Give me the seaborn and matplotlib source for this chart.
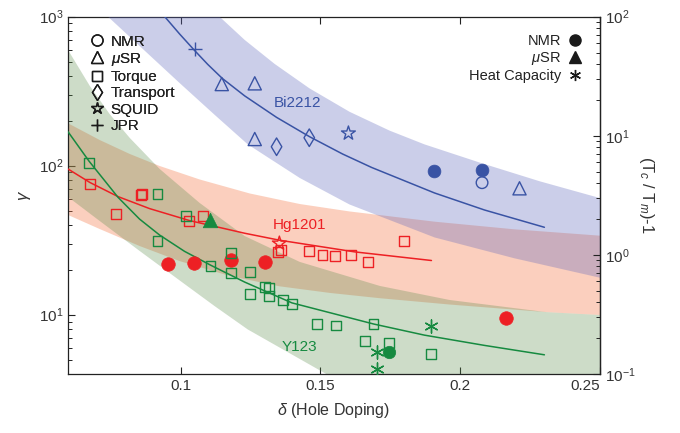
import numpy as np
import matplotlib
matplotlib.use("Agg")
import matplotlib.pyplot as plt
from matplotlib.lines import Line2D
from matplotlib.ticker import FixedLocator, NullLocator, LogLocator
import seaborn as sns

# ---------------- data ----------------
BLUE = "#3953a4"
RED = "#ed2024"
GREEN = "#168a40"

# Bi2212
bi_nmr_fill_x = [0.1905, 0.2078]
bi_nmr_fill_y = [92, 93.6]
bi_nmr_open_x = [0.2078]
bi_nmr_open_y = [76.9]
bi_musr_x = [0.1147, 0.1265, 0.1265, 0.2212]
bi_musr_y = [353, 357, 151, 70.5]
bi_trans_x = [0.1343, 0.1460]
bi_trans_y = [134, 154]
bi_squid_x = [0.1600]
bi_squid_y = [165]
bi_jpr_x = [0.1050]
bi_jpr_y = [604]
bi_fit_x = [0.0943, 0.0996, 0.1048, 0.1097, 0.1149, 0.1229, 0.1343, 0.1461, 0.1579, 0.1683,
            0.1908, 0.2087, 0.2301]
bi_fit_y = [1000, 766, 598, 478, 385, 294, 211, 156.5, 119.8, 97.3, 65.6, 50.4, 38.6]
bi_up_x = [0.1139, 0.1229, 0.1336, 0.1461, 0.1604, 0.1747, 0.1872, 0.2076, 0.2284, 0.25]
bi_up_y = [1000, 698, 482, 330, 230, 172, 139, 104, 78.6, 60.6]
bi_lo_x = [0.0740, 0.0853, 0.0996, 0.1122, 0.1240, 0.1426, 0.1604, 0.1908, 0.2194, 0.25]
bi_lo_y = [1000, 636, 359, 219, 139, 82.7, 54.9, 33.0, 23.9, 17.7]

# Hg1201
hg_torque_x = [0.0675, 0.0768, 0.0859, 0.0862, 0.1030, 0.1080, 0.1348, 0.1358, 0.1459,
               0.1507, 0.1551, 0.1610, 0.1670, 0.1799]
hg_torque_y = [75, 47.4, 63.2, 64.5, 42.8, 45.9, 26.2, 27.3, 26.9, 25.2, 24.8, 25.0, 22.6, 31.3]
hg_squid_x = [0.1353]
hg_squid_y = [30.1]
hg_nmr_x = [0.0955, 0.1046, 0.1179, 0.1303, 0.2164]
hg_nmr_y = [21.9, 22.1, 23.3, 22.5, 9.55]
hg_fit_x = [0.0597, 0.0675, 0.0776, 0.0889, 0.1032, 0.1229, 0.1354, 0.1622, 0.1897]
hg_fit_y = [95.0, 77.2, 62.0, 51.5, 42.8, 35.2, 31.6, 26.4, 23.1]
hg_up_x = [0.0597, 0.0710, 0.0818, 0.0925, 0.1068, 0.1247, 0.1426, 0.1604, 0.1908, 0.2194, 0.25]
hg_up_y = [192.6, 148.8, 119.8, 99.5, 80.8, 65.1, 55.3, 49.3, 42.1, 37.4, 33.9]
hg_lo_x = [0.0597, 0.0710, 0.0853, 0.0996, 0.1175, 0.1354, 0.1533, 0.1712, 0.1962, 0.2309, 0.25]
hg_lo_y = [46.7, 37.6, 28.9, 22.9, 18.2, 15.5, 14.0, 12.9, 11.7, 10.4, 9.95]

# Y123
y_torque_x = [0.0672, 0.0917, 0.1018, 0.0917, 0.1107, 0.1179, 0.1179, 0.1247, 0.1247, 0.1301,
              0.1316, 0.1316, 0.1366, 0.1398, 0.1487, 0.1556, 0.1690, 0.1660, 0.1745, 0.1896]
y_torque_y = [104, 64.9, 46.1, 31.1, 21.2, 25.8, 19.0, 19.3, 13.8, 15.4,
              15.1, 13.4, 12.6, 11.8, 8.63, 8.45, 8.67, 6.70, 6.43, 5.45]
y_musr_x = [0.1106]
y_musr_y = [43.3]
y_nmr_x = [0.1745]
y_nmr_y = [5.65]
y_heat_x = [0.1703, 0.1703, 0.1896]
y_heat_y = [5.65, 4.33, 8.45]
y_fit_x = [0.0597, 0.0672, 0.0776, 0.0853, 0.0925, 0.1014, 0.1107, 0.1229, 0.1398, 0.1690,
           0.1872, 0.2087, 0.2301]
y_fit_y = [169, 107.4, 61.3, 43.8, 34.2, 26.6, 21.5, 16.55, 12.0, 8.66, 7.29, 6.22, 5.38]
y_up_x = [0.0597, 0.0675, 0.0746, 0.0818, 0.0925, 0.1068, 0.1229, 0.1426, 0.1712, 0.1962,
          0.2309, 0.25]
y_up_y = [598, 343, 222, 153.5, 95.0, 56.2, 33.7, 22.6, 15.6, 12.55, 10.4, 9.95]
y_lo_x = [0.0597, 0.0710, 0.0853, 0.0996, 0.1122, 0.1240, 0.1390, 0.1533, 0.1783, 0.25]
y_lo_y = [61.7, 42.6, 26.8, 17.0, 11.4, 7.96, 5.51, 3.88, 3.2, 1.06]

xticks = [0.1, 0.15, 0.2, 0.25]
xtick_labels = ["0.1", "0.15", "0.2", "0.25"]

# ---------------- style ----------------
sns.set_theme(style="ticks")
plt.rcParams["font.family"] = ["Liberation Sans", "DejaVu Sans"]
plt.rcParams["mathtext.fontset"] = "custom"
plt.rcParams["mathtext.rm"] = "Liberation Sans"
plt.rcParams["mathtext.it"] = "Liberation Sans:italic"
plt.rcParams["mathtext.bf"] = "Liberation Sans:bold"
plt.rcParams["axes.linewidth"] = 0.9
plt.rcParams["axes.edgecolor"] = "#222222"

fig = plt.figure(figsize=(6.8, 4.33), dpi=100)
ax = fig.add_axes([0.1, 0.1363, 0.7824, 0.8252])
ax.set_yscale("log")


def band(xu, yu, xl, yl, color, alpha, z):
    xu, yu, xl, yl = map(np.asarray, (xu, yu, xl, yl))
    ax.fill(np.r_[xu, xl[::-1]], np.r_[yu, yl[::-1]], color=color, alpha=alpha,
            lw=0, zorder=z)


band(hg_up_x, hg_up_y, hg_lo_x, hg_lo_y, (245 / 255, 120 / 255, 70 / 255), 0.35, 1)
band(y_up_x, y_up_y, y_lo_x, y_lo_y, (90 / 255, 140 / 255, 75 / 255), 0.30, 2)
band(bi_up_x, bi_up_y, bi_lo_x, bi_lo_y, (96 / 255, 104 / 255, 188 / 255), 0.32, 3)

# fit lines
for fx, fy, c in [(bi_fit_x, bi_fit_y, BLUE), (hg_fit_x, hg_fit_y, RED), (y_fit_x, y_fit_y, GREEN)]:
    sns.lineplot(x=fx, y=fy, color=c, linewidth=1.1, estimator=None, sort=False, ax=ax,
                 zorder=4)


def pts(x, y, marker, color, s, filled=False, lw=1.0):
    if filled:
        sns.scatterplot(x=x, y=y, marker=marker, s=s, color=color, edgecolor=color,
                        linewidth=0.5, ax=ax, zorder=5)
    elif marker in ("+",) or isinstance(marker, tuple):
        sns.scatterplot(x=x, y=y, marker=marker, s=s, color=color, linewidth=lw, ax=ax, zorder=5)
    else:
        sns.scatterplot(x=x, y=y, marker=marker, s=s, facecolor="none", edgecolor=color,
                        linewidth=lw, ax=ax, zorder=5)


ASTER = (6, 2, 0)
# Bi2212
pts(bi_nmr_fill_x, bi_nmr_fill_y, "o", BLUE, 85, filled=True)
pts(bi_nmr_open_x, bi_nmr_open_y, "o", BLUE, 70)
pts(bi_musr_x, bi_musr_y, "^", BLUE, 90)
pts(bi_trans_x, bi_trans_y, "d", BLUE, 80)
pts(bi_squid_x, bi_squid_y, "*", BLUE, 110)
pts(bi_jpr_x, bi_jpr_y, "+", BLUE, 110)
# Hg1201
pts(hg_torque_x, hg_torque_y, "s", RED, 50)
pts(hg_squid_x, hg_squid_y, "*", RED, 110)
pts(hg_nmr_x, hg_nmr_y, "o", RED, 95, filled=True)
# Y123
pts(y_torque_x, y_torque_y, "s", GREEN, 50)
pts(y_musr_x, y_musr_y, "^", GREEN, 110, filled=True)
pts(y_nmr_x, y_nmr_y, "o", GREEN, 80, filled=True)
pts(y_heat_x, y_heat_y, ASTER, GREEN, 90)

# compound labels
ax.text(0.1418, 264, "Bi2212", color=BLUE, fontsize=11, ha="center", va="center", zorder=6)
ax.text(0.1425, 40, "Hg1201", color=RED, fontsize=11, ha="center", va="center", zorder=6)
ax.text(0.1425, 6.1, "Y123", color=GREEN, fontsize=11, ha="center", va="center", zorder=6)

# axes
ax.set_xlim(0.0597, 0.25)
ax.set_ylim(4.0, 1000)
ax.xaxis.set_major_locator(FixedLocator(xticks))
ax.set_xticklabels(xtick_labels)
ax.xaxis.set_minor_locator(NullLocator())
ax.yaxis.set_major_locator(LogLocator(base=10, numticks=10))
ax.yaxis.set_minor_locator(LogLocator(base=10, subs=np.arange(2, 10), numticks=20))
ax.tick_params(axis="both", which="both", direction="in", top=True, right=False,
               labelsize=11, colors="#222222", labelcolor="#333333")
ax.tick_params(axis="both", which="major", length=5, width=0.8)
ax.tick_params(axis="both", which="minor", length=3, width=0.7)
ax.get_xticklabels()[-1].set_horizontalalignment("right")
ax.set_xlabel(r"$\delta$ (Hole Doping)", fontsize=11.5, color="#333333", labelpad=6)
ax.set_ylabel(r"$\gamma$", fontsize=12, color="#333333", labelpad=4)

ax2 = ax.twinx()
ax2.set_yscale("log")
ax2.set_ylim(0.1, 100)
ax2.yaxis.set_major_locator(LogLocator(base=10, numticks=10))
ax2.yaxis.set_minor_locator(LogLocator(base=10, subs=np.arange(2, 10), numticks=20))
ax2.tick_params(axis="y", which="both", direction="in", labelsize=11, colors="#222222",
                labelcolor="#333333")
ax2.tick_params(axis="y", which="major", length=5, width=0.8)
ax2.tick_params(axis="y", which="minor", length=3, width=0.7)
ax2.set_ylabel(r"(T$_c$ / T$_m$)-1", fontsize=12, color="#333333", rotation=270, labelpad=15)
for sp in ax2.spines.values():
    sp.set_visible(False)
ax2.spines["right"].set_visible(True)


# legends
def h(marker, filled=False, ms=7):
    if marker in ("+",) or isinstance(marker, tuple):
        return Line2D([], [], marker=marker, ls="none", color="k", ms=ms, mew=1.0)
    if filled:
        return Line2D([], [], marker=marker, ls="none", color="k", mfc="k", mec="k", ms=ms)
    return Line2D([], [], marker=marker, ls="none", mfc="none", mec="k", ms=ms, mew=1.0)


leg1 = ax.legend([h("o", ms=8), h("^", ms=8), h("s", ms=6.5), h("d", ms=8), h("*", ms=9), h("+", ms=9)],
                 ["NMR", r"$\mu$SR", "Torque", "Transport", "SQUID", "JPR"],
                 loc="upper left", bbox_to_anchor=(0.02, 0.98), frameon=False, fontsize=11,
                 handlelength=1.0, handletextpad=0.4, labelspacing=0.15, borderpad=0.2)
for t in leg1.get_texts():
    t.set_color("#222222")
ax.add_artist(leg1)
leg1.set_zorder(7)

leg2 = ax2.legend([h("o", True, ms=8), h("^", True, ms=8), h(ASTER, ms=8)],
                  ["NMR", r"$\mu$SR", "Heat Capacity"], loc="upper right",
                  bbox_to_anchor=(0.985, 0.98), frameon=False, fontsize=10.5,
                  markerfirst=False, handlelength=1.0, handletextpad=0.4, labelspacing=0.15,
                  borderpad=0.2)
for t in leg2.get_texts():
    t.set_color("#222222")

fig.savefig("out.png", dpi=100)
